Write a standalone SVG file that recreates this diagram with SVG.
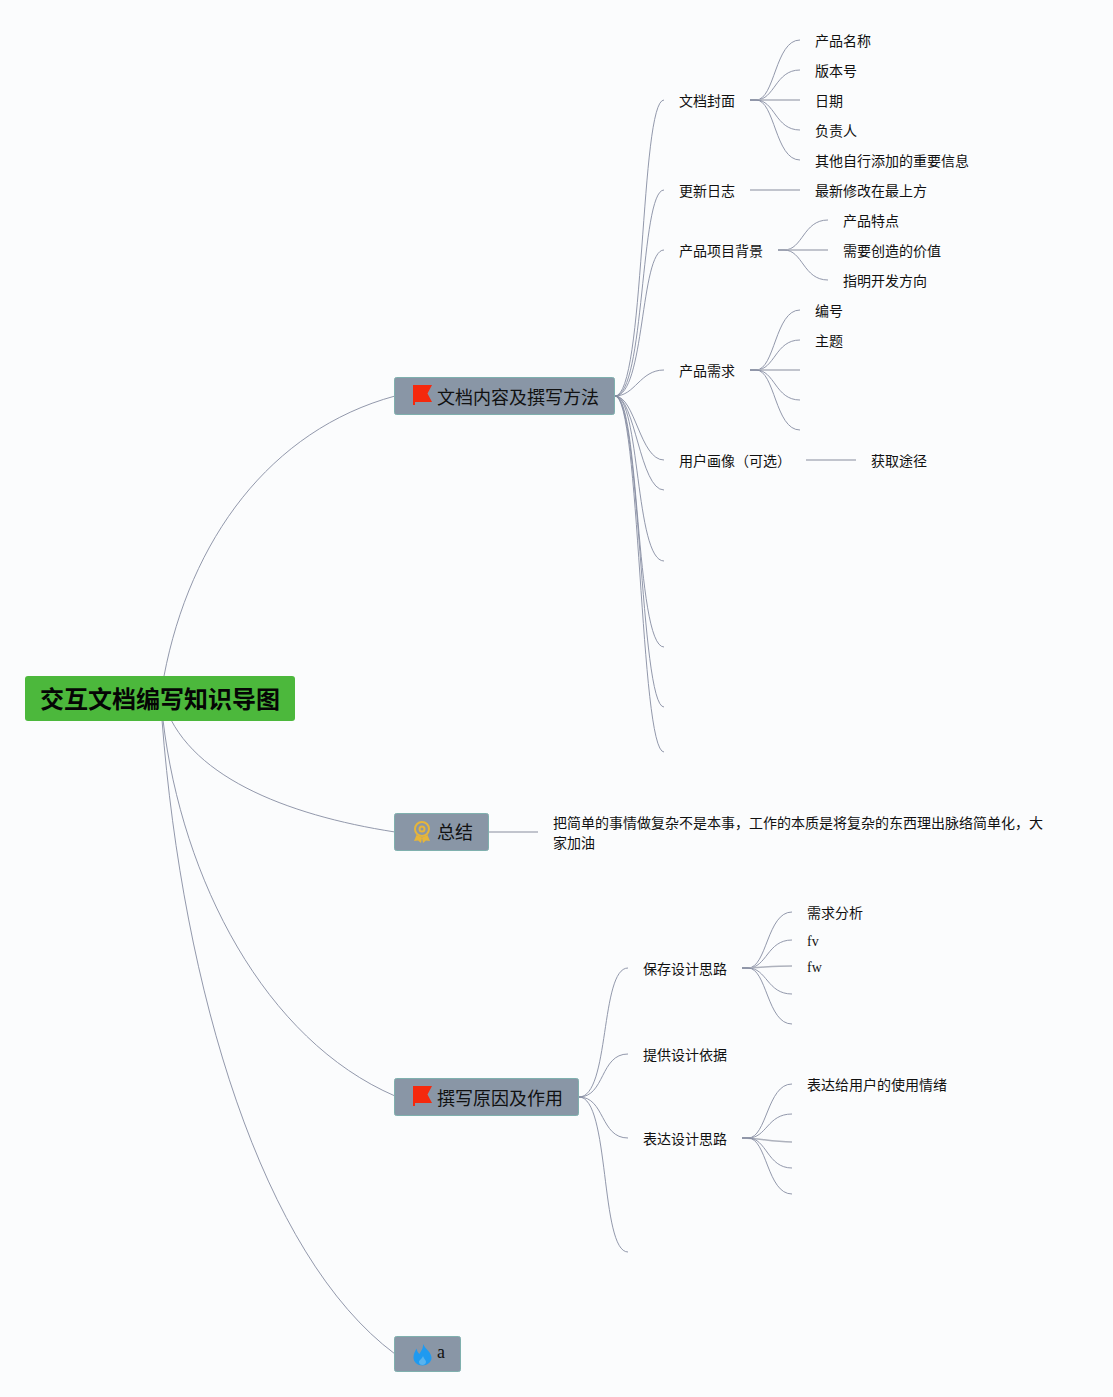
<svg xmlns="http://www.w3.org/2000/svg" width="1113" height="1397" viewBox="0 0 1113 1397">
<style>
text{font-family:"Liberation Serif","Noto Sans CJK SC",serif;fill:#111}
.l{font-size:14px}
.b{font-size:18px}
.r{font-size:24px;font-weight:700;fill:#050505}
.c{fill:none;stroke:#868ca2;stroke-width:.9}
.s{fill:none;stroke:#aeb2bd;stroke-width:1.500}
.n{fill:#8996a6;stroke:#7fb0ae;stroke-width:1}
</style>
<defs>
<g id="flag"><path d="M0 -10H19L14.500 -1.500 19 7H2V10H0Z" fill="#f5290d"/></g>
</defs>
<rect width="1113" height="1397" fill="#fbfcfd"/>
<g id="connectors">
<path class="c" d="M164 676C190 540 270 430 395 396"/>
<path class="c" d="M163 700C185 775 285 815 395 832"/>
<path class="c" d="M163 720C182 880 265 1040 395 1096"/>
<path class="c" d="M162 720C183 990 262 1255 395 1354"/>
<path class="c" d="M615 396C645 396 640 100 664 100"/>
<path class="c" d="M615 396C645 396 640 190 664 190"/>
<path class="c" d="M615 396C645 396 640 250 664 250"/>
<path class="c" d="M615 396C635 396 640 370 664 370"/>
<path class="c" d="M615 396C635 396 640 460 664 460"/>
<path class="c" d="M615 396C635 396 640 490 664 490"/>
<path class="c" d="M615 396C640 396 635 561 664 561"/>
<path class="c" d="M615 396C640 396 635 647 664 647"/>
<path class="c" d="M615 396C640 396 640 707 664 707"/>
<path class="c" d="M615 396C640 396 640 752 664 752"/>
<path class="c" d="M750 100H756C775 100 775 40 800 40"/>
<path class="c" d="M750 100H756C775 100 775 70 800 70"/>
<path class="s" d="M750 100H800"/>
<path class="c" d="M750 100H756C775 100 775 130 800 130"/>
<path class="c" d="M750 100H756C775 100 775 160 800 160"/>
<path class="s" d="M750 190H800"/>
<path class="c" d="M778 250H784C803 250 803 220 828 220"/>
<path class="s" d="M778 250H828"/>
<path class="c" d="M778 250H784C803 250 803 280 828 280"/>
<path class="c" d="M750 370H756C775 370 775 310 800 310"/>
<path class="c" d="M750 370H756C775 370 775 340 800 340"/>
<path class="s" d="M750 370H800"/>
<path class="c" d="M750 370H756C775 370 775 400 800 400"/>
<path class="c" d="M750 370H756C775 370 775 430 800 430"/>
<path class="s" d="M806 460H856"/>
<path class="s" d="M488 832H538"/>
<path class="c" d="M579 1097C610 1097 600 968 628 968"/>
<path class="c" d="M579 1097C605 1097 600 1054 628 1054"/>
<path class="c" d="M579 1097C605 1097 600 1138 628 1138"/>
<path class="c" d="M579 1097C610 1097 600 1252 628 1252"/>
<path class="c" d="M742 968H748C767 968 767 912 792 912"/>
<path class="c" d="M742 968H748C767 968 767 940 792 940"/>
<path class="s" d="M742 968C760 968 770 966 792 966"/>
<path class="c" d="M742 968H748C767 968 767 994 792 994"/>
<path class="c" d="M742 968H748C767 968 767 1024 792 1024"/>
<path class="c" d="M742 1138H748C767 1138 767 1084 792 1084"/>
<path class="c" d="M742 1138H748C767 1138 767 1114 792 1114"/>
<path class="s" d="M742 1138C760 1138 770 1142 792 1142"/>
<path class="c" d="M742 1138H748C767 1138 767 1168 792 1168"/>
<path class="c" d="M742 1138H748C767 1138 767 1194 792 1194"/>
</g>
<g id="root"><rect x="25" y="676" width="270" height="45" rx="3" fill="#4cb83c"/><text class="r" x="40" y="708">交互文档编写知识导图</text></g>
<g id="b1"><rect class="n" x="394.500" y="377.500" width="220" height="37" rx="2"/><use href="#flag" x="413" y="395"/><text class="b" x="437" y="403.500">文档内容及撰写方法</text></g>
<g id="b2"><rect class="n" x="394.500" y="813.500" width="94" height="37" rx="2"/>
<g fill="none" stroke="#e6b53a" stroke-width="2"><circle cx="422" cy="829" r="7"/><circle cx="422" cy="829" r="2.500"/></g><path d="M416.500 835L414 841 418 840.500 421 843 422 838 423 843 426 840.500 430 841 427.500 835 422 837.500Z" fill="#e6b53a"/>
<text class="b" x="437" y="839">总结</text></g>
<g id="b3"><rect class="n" x="394.500" y="1078.500" width="184" height="37" rx="2"/><use href="#flag" x="413" y="1096"/><text class="b" x="437" y="1104.500">撰写原因及作用</text></g>
<g id="b4"><rect class="n" x="394.500" y="1336.500" width="66" height="35" rx="2"/><path d="M423 1344C426 1350 431.500 1352 431.500 1358C431.500 1362 427 1365.500 422.500 1365.500C417.500 1365.500 413.500 1362 413.500 1357.500C413.500 1354 415 1351.500 416.500 1348.500C417 1351 418 1353 419.500 1354C421 1351 423.500 1348 423 1344Z" fill="#1f9af0"/><path d="M423 1356C424 1359 426 1360 426 1362C426 1364 424 1365 422.500 1365C420.500 1365 419 1364 419 1362C419 1360 422 1359 423 1356Z" fill="#58b3ee"/><text class="b" x="437" y="1358">a</text></g>
<g id="leaves">
<text class="l" x="679" y="106">文档封面</text>
<text class="l" x="815" y="46">产品名称</text>
<text class="l" x="815" y="76">版本号</text>
<text class="l" x="815" y="106">日期</text>
<text class="l" x="815" y="136">负责人</text>
<text class="l" x="815" y="166">其他自行添加的重要信息</text>
<text class="l" x="679" y="196">更新日志</text>
<text class="l" x="815" y="196">最新修改在最上方</text>
<text class="l" x="679" y="256">产品项目背景</text>
<text class="l" x="843" y="226">产品特点</text>
<text class="l" x="843" y="256">需要创造的价值</text>
<text class="l" x="843" y="286">指明开发方向</text>
<text class="l" x="679" y="376">产品需求</text>
<text class="l" x="815" y="316">编号</text>
<text class="l" x="815" y="346">主题</text>
<text class="l" x="679" y="466">用户画像（可选）</text>
<text class="l" x="871" y="466">获取途径</text>
<text class="l" x="553" y="828">把简单的事情做复杂不是本事，工作的本质是将复杂的东西理出脉络简单化，大</text>
<text class="l" x="553" y="848">家加油</text>
<text class="l" x="643" y="974">保存设计思路</text>
<text class="l" x="807" y="918">需求分析</text>
<text class="l" x="807" y="946">fv</text>
<text class="l" x="807" y="972">fw</text>
<text class="l" x="643" y="1060">提供设计依据</text>
<text class="l" x="643" y="1144">表达设计思路</text>
<text class="l" x="807" y="1090">表达给用户的使用情绪</text>
</g>
</svg>
